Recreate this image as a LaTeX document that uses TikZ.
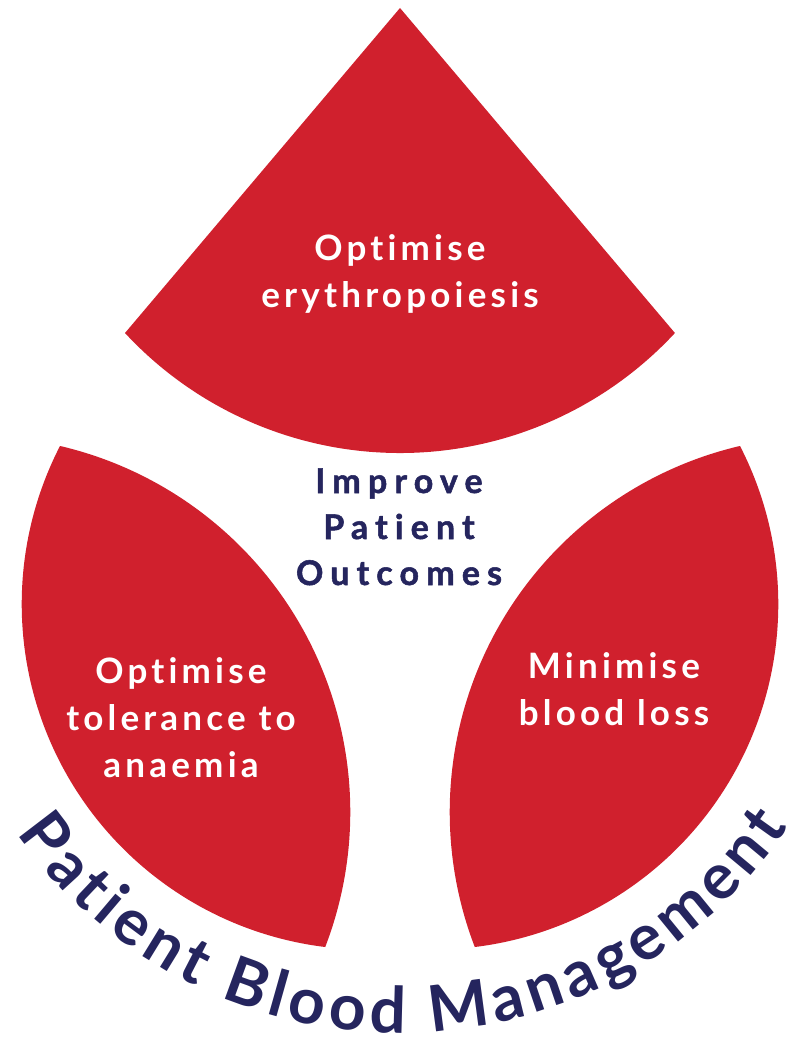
\documentclass[tikz,border=0pt]{standalone}
\usepackage{fontspec}
\setmainfont{Lato}
\newfontfamily\pbmwhitefont{Lato}[LetterSpace=12,Ligatures=CommonOff]
\newfontfamily\pbmnavyfont{Lato}[LetterSpace=21,Ligatures=CommonOff,FakeBold=1.5]
\newfontfamily\pbmcurvefont{Lato}[Ligatures=CommonOff]
\newcommand\pbmcurve{\pbmcurvefont\bfseries\fontsize{64}{64}\selectfont}
\usetikzlibrary{decorations.text}
\definecolor{pbmred}{RGB}{208,32,45}
\definecolor{pbmnavy}{RGB}{37,37,94}
\begin{document}
\begin{tikzpicture}[x=1pt,y=1pt,
  petal/.style={fill=pbmred, draw=none},
  whitelabel/.style={text=white, align=center, inner sep=0pt,
    font=\pbmwhitefont\bfseries\fontsize{35}{47}\selectfont},
  navylabel/.style={text=pbmnavy, align=center, inner sep=0pt,
    font=\pbmnavyfont\bfseries\fontsize{34}{46}\selectfont}]
\useasboundingbox (0,0) rectangle (802,-1049);

% top petal (sector)
\fill[petal] (400,-8) -- (125,-333)
  arc[start angle=222.84, end angle=317.16, radius=375pt] -- cycle;
% left petal (lens)
\fill[petal] (60,-446)
  arc[start angle=152.77, end angle=263.02, radius=345.5pt]
  arc[start angle=-21.04, end angle=76.78, radius=376pt] -- cycle;
% right petal (lens)
\fill[petal] (740,-446)
  arc[start angle=27.23, end angle=-83.02, radius=345.5pt]
  arc[start angle=201.04, end angle=103.22, radius=376pt] -- cycle;

% anchor=base is the baseline of the last line
\node[whitelabel, anchor=base] (erythro) at (400,-307) {Optimise\\erythropoiesis};
\node[whitelabel, anchor=base] (tolerance) at (181,-777) {Optimise\\tolerance to\\anaemia};
\node[whitelabel, anchor=base] (bloodloss) at (614,-725) {Minimise\\blood loss};
\node[navylabel, anchor=base] (outcomes) at (399,-585) {Improve\\Patient\\Outcomes};

\coordinate (ringC) at (400,-565);
\path (ringC) ++(215:468pt) coordinate (ringS);
\path[decorate, decoration={text along path,
    text={|\pbmcurve|Patient Blood Management},
    text color=pbmnavy, text align=fit to path}]
  (ringS) arc[start angle=215, end angle=326, radius=468pt];
\end{tikzpicture}
\end{document}
